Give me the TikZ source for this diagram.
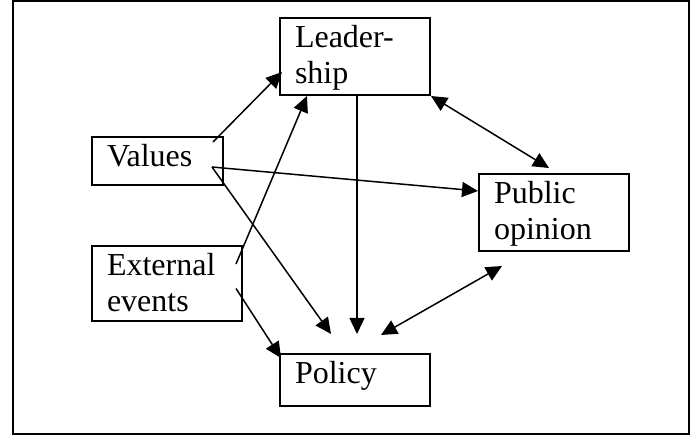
\documentclass[tikz,border=0pt]{standalone}
\usepackage{fontspec}
\setmainfont{Liberation Serif}
\usetikzlibrary{positioning,arrows.meta}

\begin{document}
\begin{tikzpicture}[x=1pt,y=-1pt,
	block/.style={draw,rectangle,line width=2pt,anchor=north west,align=left,
		text width=120pt,inner xsep=15pt,inner ysep=8pt,text height=22pt,
		font=\fontsize{32}{36}\selectfont},
	arr/.style={line width=1.5pt,-{Triangle[length=16pt,width=15pt]}},
	biarr/.style={line width=1.5pt,{Triangle[length=16pt,width=15pt]}-{Triangle[length=16pt,width=15pt]}}]
	\useasboundingbox (0,0) rectangle (691,435);
	\draw[line width=2pt] (13,1.2) rectangle (689,433.8);
	%% boxes
	\node[block,text width=101pt,text depth=10pt] (values) at (91,136) {Values};
	\node[block,text depth=37pt,below=59pt of values.south west,anchor=north west] (ext) {External\\events};
	\node[block,text depth=39pt,above right=119pt and 55pt of values.north east,anchor=north west] (lead) {Leader-\\ship};
	\node[block,text depth=39pt,below right=77pt and 47pt of lead.south east,anchor=north west] (public) {Public\\opinion};
	\node[block,text depth=14pt,below=257pt of lead,anchor=north] (policy) {Policy};
	% 各箭头
	\draw[arr] ([xshift=-11pt,yshift=-6pt]values.north east) -- ([xshift=3pt,yshift=24pt]lead.south west);
	\draw[arr] ([xshift=-7pt,yshift=-19pt]ext.north east) -- ([xshift=28pt]lead.south west);
	\draw[arr] ([xshift=-12pt,yshift=-6pt]values.east) -- ([yshift=-18pt]public.north west);
	\draw[arr] ([xshift=-12pt,yshift=-6pt]values.east) -- ([xshift=52pt,yshift=19pt]policy.north west);
	\draw[arr] ([xshift=-7pt,yshift=-5pt]ext.east) -- ([xshift=2pt,yshift=-5pt]policy.north west);
	\draw[arr] ([xshift=2pt]lead.south) -- ([xshift=2pt,yshift=19pt]policy.north);
	\draw[biarr] (lead.south east) -- ([xshift=-5pt,yshift=5pt]public.north);
	\draw[biarr] ([xshift=24pt,yshift=-14pt]public.south west) -- ([xshift=26pt,yshift=18pt]policy.north);
\end{tikzpicture}
\end{document}
